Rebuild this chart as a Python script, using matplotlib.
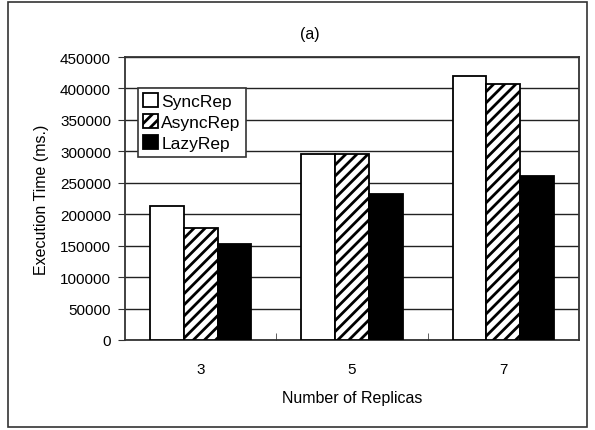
import matplotlib.pyplot as plt
from matplotlib.patches import Rectangle
import numpy as np

plt.rcParams['font.family'] = ['Liberation Sans', 'DejaVu Sans']
plt.rcParams['hatch.linewidth'] = 2.0

# execution times per replica count
replicas = ['3', '5', '7']
sync_rep = [213000, 296000, 419000]
async_rep = [178000, 296000, 407000]
lazy_rep = [152000, 232000, 260000]

fig = plt.figure(figsize=(5.95, 4.31), dpi=100)
ax = fig.add_axes([125/595, 1-341/431, 454/595, 283/431])

# outer border round the whole chart
fig.patches.append(Rectangle((8/595, 3/431), 579/595, 425/431, transform=fig.transFigure,
                             fill=False, edgecolor='#333333', linewidth=1.2))

x = np.arange(len(replicas))
w = 0.223
ax.bar(x - w, sync_rep, w, color='white', edgecolor='black', linewidth=1.3, label='SyncRep', zorder=3)
ax.bar(x, async_rep, w, color='white', edgecolor='black', linewidth=1.3, hatch='///', label='AsyncRep', zorder=3)
ax.bar(x + w, lazy_rep, w, color='black', edgecolor='black', linewidth=1.3, label='LazyRep', zorder=3)

ax.set_xlim(-0.5, 2.5)
ax.set_ylim(0, 450000)
ax.set_yticks(np.arange(0, 450001, 50000))
ax.yaxis.grid(True, color='#222222', linewidth=1.0)
ax.set_axisbelow(True)
ax.set_xticks(x)
ax.set_xticklabels(replicas)
ax.set_xticks([0.5, 1.5], minor=True)
ax.tick_params(axis='x', which='major', length=0, pad=16, labelsize=11)
ax.tick_params(axis='x', which='minor', direction='in', length=5, color='#444444')
ax.tick_params(axis='y', length=5, direction='out', labelsize=11, pad=5, color='#333333')
for s in ax.spines.values():
    s.set_color('#333333')
    s.set_linewidth(1.3)

ax.set_xlabel('Number of Replicas', fontsize=11.5, labelpad=10)
ax.set_ylabel('Execution Time (ms.)', fontsize=11.5, labelpad=8)
fig.text(310/595, 1-35/431, '(a)', ha='center', va='center', fontsize=11.5)

leg = ax.legend(loc='upper left', bbox_to_anchor=(13/454, 252/283), fontsize=12.5,
                frameon=True, fancybox=False, edgecolor='#333333', framealpha=1,
                handlelength=0.85, handleheight=0.85, handletextpad=0.2,
                labelspacing=0.3, borderpad=0.3, borderaxespad=0)
leg.get_frame().set_linewidth(1.2)

fig.savefig('out.png', dpi=100)
